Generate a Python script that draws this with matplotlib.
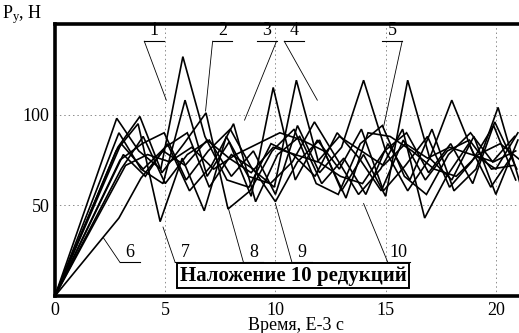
import matplotlib
matplotlib.use("Agg")
import matplotlib.pyplot as plt

plt.rcParams['font.family'] = ['Liberation Serif', 'DejaVu Serif']
plt.rcParams['mathtext.fontset'] = 'custom'
plt.rcParams['mathtext.rm'] = 'Liberation Serif'
plt.rcParams['mathtext.it'] = 'Liberation Serif:italic'

# ---- data: start offsets (time of first vertex after origin), step 1e-3 s ----
start_1, start_2, start_3, start_4, start_5 = 2.8, 2.85, 2.9, 2.95, 3.0
start_6, start_7, start_8, start_9, start_10 = 2.9, 2.77, 3.1, 3.0, 3.2

force_1 = [98, 80, 70, 132, 88, 64, 60, 84, 78, 66, 90, 76, 58, 86, 64, 80, 86, 70, 72]
force_2 = [82, 99, 68, 84, 101, 48, 58, 80, 92, 62, 56, 84, 94, 66, 56, 78, 90, 74, 88]
force_3 = [90, 70, 62, 108, 66, 85, 55, 115, 64, 86, 70, 92, 58, 72, 88, 60, 74, 94, 64]
force_4 = [75, 84, 90, 64, 80, 92, 70, 60, 119, 74, 66, 62, 80, 90, 68, 84, 62, 96, 70]
force_5 = [70, 88, 62, 78, 86, 66, 80, 56, 94, 68, 82, 119, 80, 58, 76, 108, 78, 70, 90]
force_6 = [43, 65, 80, 72, 86, 76, 68, 82, 78, 74, 88, 80, 72, 84, 76, 82, 78, 74, 80]
force_7 = [80, 95, 41, 76, 47, 88, 66, 62, 74, 96, 76, 56, 70, 92, 43, 66, 84, 60, 78]
force_8 = [78, 66, 84, 58, 72, 95, 52, 78, 88, 62, 76, 56, 84, 64, 92, 58, 70, 104, 62]
force_9 = [84, 70, 82, 90, 60, 78, 70, 52, 74, 86, 58, 78, 55, 119, 76, 64, 88, 56, 86]
force_10 = [72, 78, 74, 82, 70, 78, 84, 90, 86, 80, 54, 90, 88, 80, 70, 66, 78, 84, 74]

starts = [start_1, start_2, start_3, start_4, start_5,
          start_6, start_7, start_8, start_9, start_10]
forces = [force_1, force_2, force_3, force_4, force_5,
          force_6, force_7, force_8, force_9, force_10]

x_ticks = [0, 5, 10, 15, 20]
y_ticks = [50, 100]
y_tick_labels = ['50', '100']

# label annotations: (text, label x, target x, target y, leader from 'left'/'right')
top_labels = [('1', 4.5, 5.05, 108, 'left'),
              ('2', 7.6, 6.83, 102, 'left'),
              ('3', 9.6, 8.6, 97, 'right'),
              ('4', 10.85, 11.9, 108, 'left'),
              ('5', 15.3, 14.9, 93, 'right')]
bottom_labels = [('6', 3.4, 2.2, 32),
                 ('7', 5.9, 4.9, 38),
                 ('8', 9.0, 7.85, 49),
                 ('9', 11.2, 10.0, 51),
                 ('10', 15.6, 14.0, 51)]

fig = plt.figure(figsize=(5.19, 3.33), dpi=100)
ax = fig.add_axes([55/519, 1-296/333, 1-55/519, (296-24)/333])

for s, f in zip(starts, forces):
    t = [0.0] + [s + i for i in range(len(f))]
    p = [0.0] + list(f)
    ax.plot(t, p, color='black', lw=1.2, solid_joinstyle='miter')

ax.set_xlim(0, 21.05)
ax.set_ylim(0, 150)
ax.set_xticks(x_ticks)
ax.set_yticks(y_ticks)
ax.set_yticklabels(y_tick_labels)
ax.tick_params(length=0, labelsize=13, pad=4)
ax.grid(True, color='0.55', lw=0.7, linestyle=(0, (1.5, 3)))
for side in ['left', 'top', 'bottom']:
    ax.spines[side].set_linewidth(2.6)
ax.spines['right'].set_visible(False)

u_half = 0.45
for txt, lx, tx, ty, side in top_labels:
    ly = 140.5
    ax.plot([lx - u_half, lx + u_half], [ly, ly], color='black', lw=0.8, clip_on=False)
    ax.text(lx, ly + 1, txt, ha='center', va='bottom', fontsize=13)
    sx = lx - u_half if side == 'left' else lx + u_half
    ax.plot([sx, tx], [ly, ty], color='black', lw=0.6)

for txt, lx, tx, ty in bottom_labels:
    ly = 18.5
    w = u_half if len(txt) == 1 else 0.5
    ax.plot([lx - w, lx + w], [ly, ly], color='black', lw=0.8)
    ax.text(lx, ly + 1, txt, ha='center', va='bottom', fontsize=13)
    ax.plot([lx - w, tx], [ly, ty], color='black', lw=0.6)

ax.text(10.8, 11.3, 'Наложение 10 редукций', ha='center', va='center',
        fontsize=15, fontweight='bold',
        bbox=dict(boxstyle='square,pad=0.12', facecolor='white', edgecolor='black', lw=1.4))

fig.text(2/519, 1-18/333, r'P$_\mathrm{y}$, H', ha='left', va='baseline', fontsize=13)
fig.text(296/519, 1-330/333, 'Время, E-3 с', ha='center', va='baseline', fontsize=13)

fig.savefig('out.png', dpi=100)
